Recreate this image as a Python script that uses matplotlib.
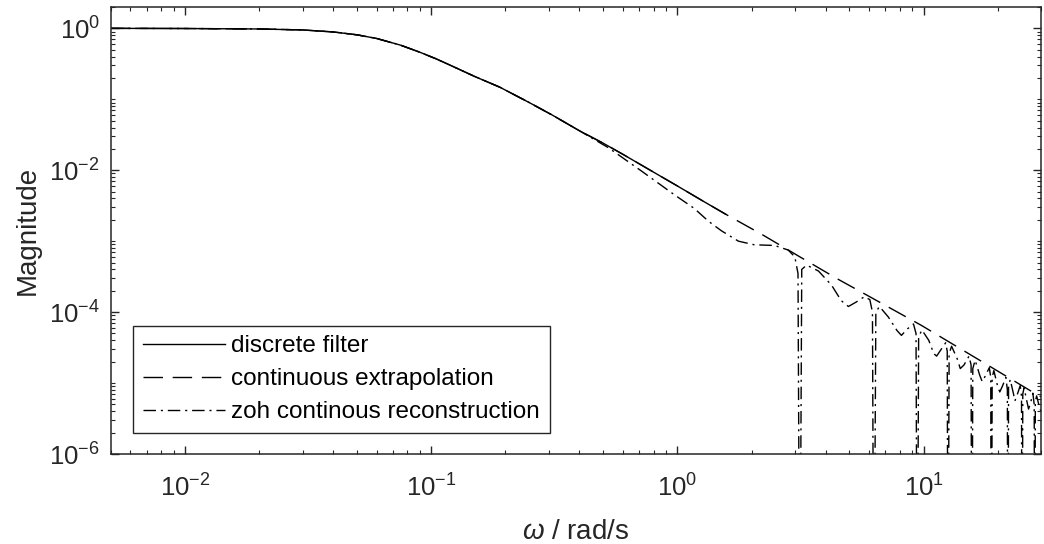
import matplotlib
matplotlib.use("Agg")
import matplotlib.pyplot as plt
from matplotlib.ticker import LogLocator, NullFormatter

plt.rcParams['font.family'] = ['Liberation Sans', 'DejaVu Sans']
plt.rcParams['mathtext.fontset'] = 'custom'
plt.rcParams['mathtext.rm'] = 'Liberation Sans'
plt.rcParams['mathtext.it'] = 'Liberation Sans:italic'
plt.rcParams['axes.unicode_minus'] = False

# discrete filter (ends at Nyquist)
w_disc = [0.005, 0.01, 0.02, 0.03, 0.04, 0.05, 0.06, 0.075, 0.09, 0.105, 0.12,
          0.15, 0.19, 0.25, 0.31, 0.4, 0.5, 0.6, 0.8, 1.0, 1.25, 1.57]
mag_disc = [1.0, 0.995, 0.98, 0.95, 0.89, 0.81, 0.72, 0.58, 0.46, 0.37, 0.30,
            0.21, 0.148, 0.090, 0.060, 0.036, 0.024, 0.0168, 0.0094, 0.0060, 0.0038, 0.0024]

# continuous extrapolation beyond Nyquist
w_cont_ext = [2.2, 3.2, 4.5, 6.1, 9.8, 16.7, 27.5, 31.4]
mag_cont_ext = [1.25e-3, 5.8e-4, 2.9e-4, 1.62e-4, 6.5e-5, 2.15e-5, 7.6e-6, 5.9e-6]

# zoh continuous reconstruction (nulls drawn as 1e-9)
w_zoh_ext = [0.524, 0.713, 0.973, 1.17, 1.34, 1.51, 1.77, 2.05, 2.48, 2.82, 3.0, 3.09, 3.1416,
             3.20, 3.35, 3.74, 4.23, 4.63, 4.95, 5.35, 5.75, 6.05, 6.2, 6.2832,
             6.40, 6.62, 7.2, 7.8, 8.13, 8.6, 9.1, 9.32, 9.4248,
             9.55, 9.85, 10.5, 11.0, 11.3, 11.8, 12.3, 12.48, 12.566,
             12.7, 13.0, 13.7, 14.1, 14.6, 15.3, 15.6, 15.708,
             15.85, 16.2, 16.9, 17.3, 17.8, 18.5, 18.75, 18.85,
             19.0, 19.3, 20.0, 20.4, 20.9, 21.6, 21.9, 21.99,
             22.15, 22.5, 23.2, 23.5, 24.0, 24.7, 25.0, 25.13,
             25.3, 25.6, 26.3, 26.7, 27.2, 27.8, 28.15, 28.27,
             28.45, 28.8, 29.6, 30.0]
mag_zoh_ext = [0.0208, 0.0098, 0.0045, 0.0029, 0.0019, 0.0014, 0.00100, 8.9e-4, 8.7e-4, 7.5e-4, 6.0e-4, 3.5e-4, 1e-9,
               4.0e-4, 4.6e-4, 3.8e-4, 2.4e-4, 1.45e-4, 1.2e-4, 1.4e-4, 1.65e-4, 1.5e-4, 1.0e-4, 1e-9,
               1.0e-4, 1.2e-4, 8.5e-5, 5.5e-5, 4.7e-5, 5.8e-5, 6.8e-5, 5.0e-5, 1e-9,
               4.5e-5, 5.6e-5, 4.0e-5, 2.6e-5, 2.4e-5, 3.0e-5, 3.7e-5, 2.8e-5, 1e-9,
               2.6e-5, 3.3e-5, 2.2e-5, 1.6e-5, 1.8e-5, 2.4e-5, 1.8e-5, 1e-9,
               1.6e-5, 2.1e-5, 1.3e-5, 1.05e-5, 1.25e-5, 1.65e-5, 1.2e-5, 1e-9,
               1.2e-5, 1.5e-5, 9e-6, 7.5e-6, 9e-6, 1.2e-5, 8e-6, 1e-9,
               9e-6, 1.12e-5, 7e-6, 5.6e-6, 6.8e-6, 9.2e-6, 6.5e-6, 1e-9,
               7e-6, 8.6e-6, 5.5e-6, 4.3e-6, 5.2e-6, 7.2e-6, 5e-6, 1e-9,
               5.5e-6, 6.6e-6, 4.5e-6, 4.0e-6]

n_shared = 16  # zoh follows the discrete filter up to w = 0.4
w_cont = w_disc + w_cont_ext
mag_cont = mag_disc + mag_cont_ext
w_zoh = w_disc[:n_shared] + w_zoh_ext
mag_zoh = mag_disc[:n_shared] + mag_zoh_ext

fig = plt.figure(figsize=(10.44, 5.44), dpi=100)
ax = fig.add_axes([111 / 1044, 90 / 544, 930 / 1044, 447 / 544])

ax.loglog(w_disc, mag_disc, color='k', lw=1.0, label='discrete filter')
ax.loglog(w_cont, mag_cont, color='k', lw=1.0, dashes=(14, 7), label='continuous extrapolation')
ax.loglog(w_zoh, mag_zoh, color='k', lw=1.0, dashes=(9, 3.5, 1.5, 3.5),
          label='zoh continous reconstruction')

ax.set_xlim(0.005, 30)
ax.set_ylim(1e-6, 2)
ax.set_yticks([1e-6, 1e-4, 1e-2, 1e0])
ax.yaxis.set_minor_locator(LogLocator(base=10, subs=range(1, 10), numticks=30))
ax.yaxis.set_minor_formatter(NullFormatter())
ax.xaxis.set_minor_locator(LogLocator(base=10, subs=range(2, 10), numticks=30))
ax.xaxis.set_minor_formatter(NullFormatter())

ax.tick_params(which='both', direction='in', top=True, right=True, colors='#262626',
               labelsize=18.5)
ax.tick_params(which='major', length=6, width=1.0)
ax.tick_params(axis='x', which='major', pad=15)
ax.tick_params(axis='y', which='major', pad=8)
ax.tick_params(which='minor', length=3, width=0.8)
for s in ax.spines.values():
    s.set_color('#262626')
    s.set_linewidth(1.1)

ax.set_xlabel(r'$\omega$ / rad/s', color='#262626', fontsize=20, labelpad=12)
ax.set_ylabel('Magnitude', color='#262626', fontsize=20, labelpad=6)

leg = ax.legend(loc='lower left', bbox_to_anchor=(0.0237, 0.047), fancybox=False,
                edgecolor='#262626', framealpha=1, fontsize=17.5, handlelength=3.4,
                handletextpad=0.25, borderpad=0.4, labelspacing=0.45, borderaxespad=0)
leg.get_frame().set_linewidth(1.0)

fig.savefig('out.png', dpi=100)
